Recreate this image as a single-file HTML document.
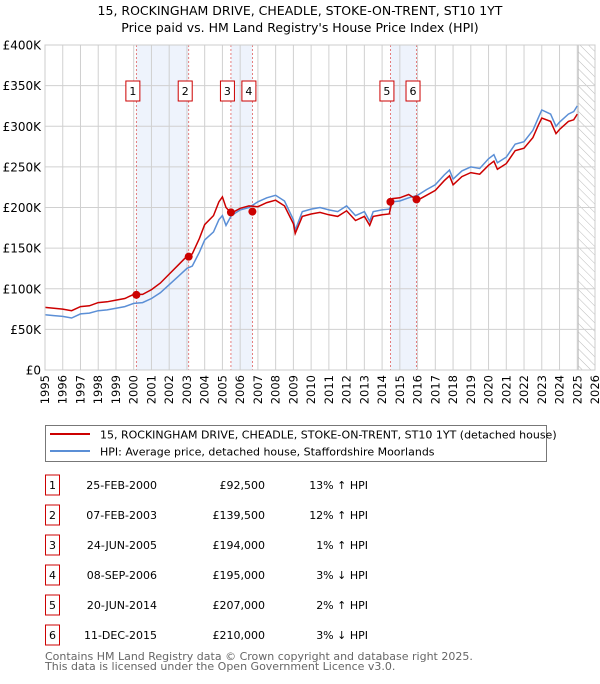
<!DOCTYPE html>
<html><head><meta charset="utf-8">
<style>
body{margin:0;background:#fff;font-family:"DejaVu Sans","Liberation Sans",sans-serif;}
svg text{font-family:"DejaVu Sans","Liberation Sans",sans-serif;}
</style></head>
<body>
<svg id="chart" width="600" height="680" viewBox="0 0 600 680" xmlns="http://www.w3.org/2000/svg">
<defs>
<pattern id="hatch" patternUnits="userSpaceOnUse" width="6" height="6" patternTransform="rotate(-45)">
<line x1="0" y1="0" x2="0" y2="6" stroke="#bbb" stroke-width="1"/>
</pattern>
</defs>
<text x="300" y="15" font-size="12.5" text-anchor="middle" fill="#000">15, ROCKINGHAM DRIVE, CHEADLE, STOKE-ON-TRENT, ST10 1YT</text>
<text x="300" y="32" font-size="12.5" text-anchor="middle" fill="#000">Price paid vs. HM Land Registry's House Price Index (HPI)</text>
<g id="plot"></g>
<rect x="45.5" y="425.5" width="501" height="36" fill="#fff" stroke="#777" stroke-width="1"/>
<line x1="50" y1="434" x2="90" y2="434" stroke="#cc0000" stroke-width="2"/>
<text x="100" y="438.5" font-size="11">15, ROCKINGHAM DRIVE, CHEADLE, STOKE-ON-TRENT, ST10 1YT (detached house)</text>
<line x1="50" y1="451" x2="90" y2="451" stroke="#5b8fd6" stroke-width="2"/>
<text x="100" y="455.5" font-size="11">HPI: Average price, detached house, Staffordshire Moorlands</text>
<g id="table"></g>
<text x="45" y="660" font-size="11" fill="#666">Contains HM Land Registry data © Crown copyright and database right 2025.</text>
<text x="45" y="670" font-size="11" fill="#666">This data is licensed under the Open Government Licence v3.0.</text>
</svg>
<script>
const years=[1995,1995.5,1996,1996.5,1997,1997.5,1998,1998.5,1999,1999.5,2000,2000.5,2001,2001.5,2002,2002.5,2003,2003.3,2003.7,2004,2004.5,2004.8,2005,2005.2,2005.5,2006,2006.5,2007,2007.5,2008,2008.5,2009,2009.1,2009.5,2010,2010.5,2011,2011.5,2012,2012.5,2013,2013.3,2013.5,2014,2014.4,2014.6,2015,2015.5,2016,2016.5,2017,2017.5,2017.8,2018,2018.5,2019,2019.5,2020,2020.3,2020.5,2021,2021.5,2022,2022.5,2022.8,2023,2023.5,2023.8,2024,2024.5,2024.8,2025];
const hpiValues=[68,67,66,64,69,70,73,74,76,78,82,83,88,95,105,115,125,128,145,160,170,185,190,178,190,197,200,207,212,215,208,185,172,195,198,200,197,195,202,190,195,183,195,197,198,207,208,212,215,222,228,240,246,235,245,250,248,260,265,255,262,278,281,295,310,320,315,300,305,315,318,325];
const priceValues=[77,76,75,73,78,79,83,84,86,88,93,93,99,107,118,129,140,143,162,179,190,207,213,200,193,199,202,201,206,209,202,180,168,189,192,194,191,189,196,184,189,178,189,191,192,211,212,216,209,215,221,233,239,228,238,243,241,252,257,247,254,270,273,286,301,310,306,291,296,306,308,315];
const saleLabels=["1","2","3","4","5","6"];
const saleDates=[2000.15,2003.10,2005.48,2006.69,2014.47,2015.94];
const salePrices=[92.5,139.5,194,195,207,210];
const saleDateText=["25-FEB-2000","07-FEB-2003","24-JUN-2005","08-SEP-2006","20-JUN-2014","11-DEC-2015"];
const salePriceText=["£92,500","£139,500","£194,000","£195,000","£207,000","£210,000"];
const saleHpiText=["13% ↑ HPI","12% ↑ HPI","1% ↑ HPI","3% ↓ HPI","2% ↑ HPI","3% ↓ HPI"];
const yTicks=[0,50,100,150,200,250,300,350,400];
const yTickLabels=["£0","£50K","£100K","£150K","£200K","£250K","£300K","£350K","£400K"];
const xTicks=[1995,1996,1997,1998,1999,2000,2001,2002,2003,2004,2005,2006,2007,2008,2009,2010,2011,2012,2013,2014,2015,2016,2017,2018,2019,2020,2021,2022,2023,2024,2025,2026];
const bands=[[0,1],[2,3],[4,5]];

const NS="http://www.w3.org/2000/svg";
const X0=45,X1=595,Y0=370,Y1=45;
const xs=y=>X0+(y-1995)/(2026-1995)*(X1-X0);
const ys=v=>Y0-(v/400)*(Y0-Y1);
function mk(tag,attrs,parent){const e=document.createElementNS(NS,tag);for(const k in attrs)e.setAttribute(k,attrs[k]);parent.appendChild(e);return e;}
const plot=document.getElementById('plot');

bands.forEach((b,i)=>{
 const r=mk('rect',{x:xs(saleDates[b[0]]),y:Y1,width:xs(saleDates[b[1]])-xs(saleDates[b[0]]),height:Y0-Y1,fill:'#eef3fc'},plot);
 
 
});
const hr=mk('rect',{x:xs(2025.05),y:Y1,width:X1-xs(2025.05),height:Y0-Y1,fill:'url(#hatch)',stroke:'#bbb'},plot);


xTicks.forEach(t=>{
 const l=mk('line',{x1:xs(t),x2:xs(t),y1:Y1,y2:Y0,stroke:'#d0d0d0','stroke-width':1},plot);
 
 
 const tx=mk('text',{x:0,y:0,'font-size':11.5,'text-anchor':'end',transform:`translate(${xs(t)+4},${Y0+5}) rotate(-90)`},plot);
 tx.textContent=t;
 
 
});
yTicks.forEach((t,i)=>{
 const l=mk('line',{x1:X0,x2:X1,y1:ys(t),y2:ys(t),stroke:'#d0d0d0','stroke-width':1},plot);
 
 
 const tx=mk('text',{x:X0-4,y:ys(t)+4.5,'font-size':12,'text-anchor':'end'},plot);
 tx.textContent=yTickLabels[i];
 
 
});
saleDates.forEach(d=>{
 const l=mk('line',{x1:xs(d),x2:xs(d),y1:Y1,y2:Y0,stroke:'#e06060','stroke-width':0.8,'stroke-dasharray':'2,2'},plot);
 
 
});
function pathOf(vals){return vals.map((v,i)=>(i?'L':'M')+xs(years[i]).toFixed(1)+','+ys(v).toFixed(1)).join('');}
const hp=mk('path',{d:pathOf(hpiValues),fill:'none',stroke:'#5b8fd6','stroke-width':1.5},plot);


const pp=mk('path',{d:pathOf(priceValues),fill:'none',stroke:'#cc0000','stroke-width':1.5},plot);


saleDates.forEach((d,i)=>{
 const c=mk('circle',{cx:xs(d),cy:ys(salePrices[i]),r:4,fill:'#cc0000'},plot);
 
 
 const bx=xs(d)-3.5-7;
 const b=mk('rect',{x:bx,y:81,width:14,height:20,fill:'#fff',stroke:'#cc0000','stroke-width':1},plot);
 
 
 const t=mk('text',{x:bx+7,y:95,'font-size':11,'text-anchor':'middle'},plot);
 t.textContent=saleLabels[i];
 
 
});
const bd=mk('rect',{x:X0,y:Y1,width:X1-X0,height:Y0-Y1,fill:'none',stroke:'#ccc'},plot);



const tbl=document.getElementById('table');
saleLabels.forEach((s,i)=>{
 const cy=485+i*30;
 const b=mk('rect',{x:45.5,y:cy-10,width:14,height:20,fill:'#fff',stroke:'#cc0000','stroke-width':1},tbl);
 
 
 const t0=mk('text',{x:52.5,y:cy+4,'font-size':11,'text-anchor':'middle'},tbl);t0.textContent=s;
 
 
 const t1=mk('text',{x:157,y:cy+4,'font-size':11,'text-anchor':'end'},tbl);t1.textContent=saleDateText[i];
 
 
 const t2=mk('text',{x:265,y:cy+4,'font-size':11,'text-anchor':'end'},tbl);t2.textContent=salePriceText[i];
 
 
 const t3=mk('text',{x:368,y:cy+4,'font-size':11,'text-anchor':'end'},tbl);t3.textContent=saleHpiText[i];
 
 
});
</script>
</body></html>
